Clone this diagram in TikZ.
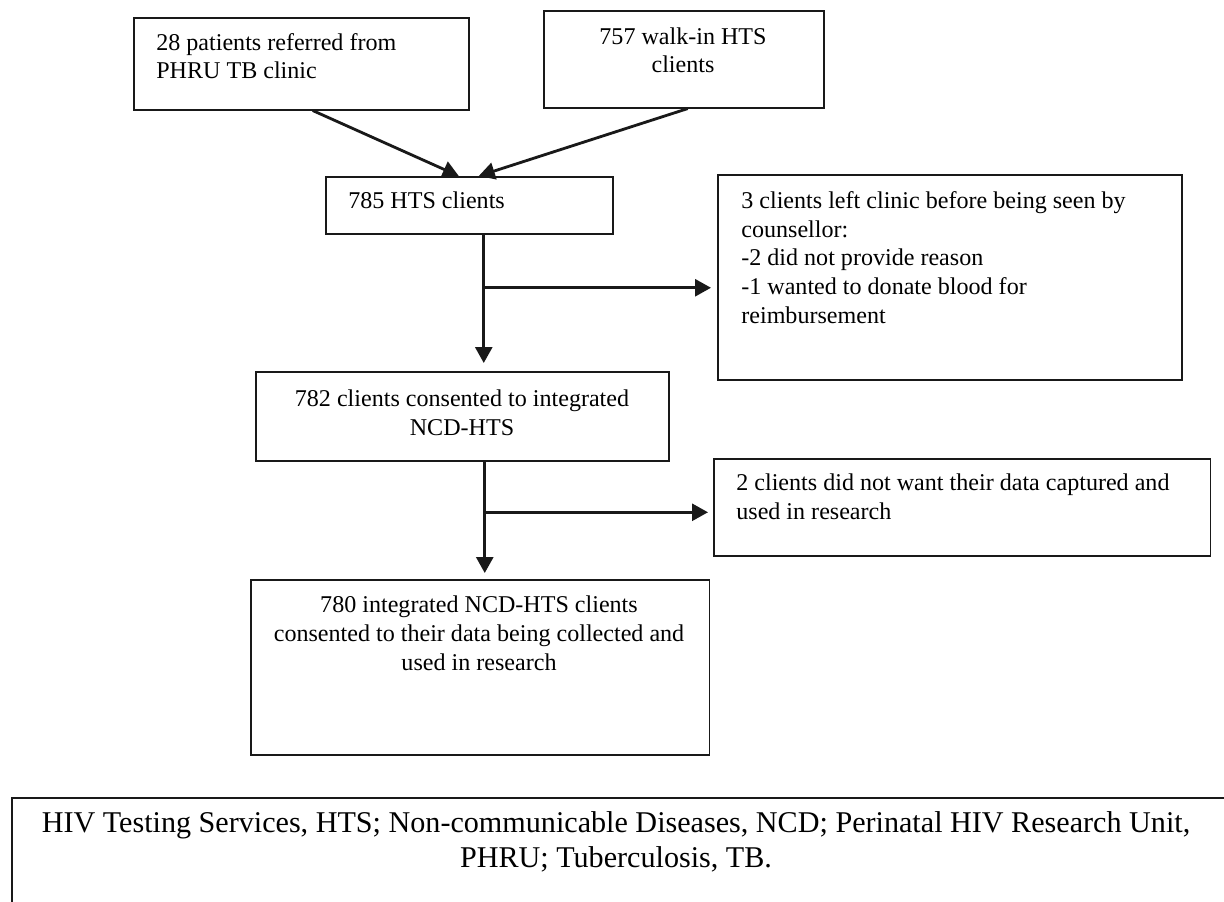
\documentclass[tikz,border=0pt]{standalone}
\usepackage{fontspec}
\setmainfont{Liberation Serif}
\usetikzlibrary{arrows.meta, positioning, calc}

\begin{document}
\begin{tikzpicture}[
  x=0.02cm, y=-0.02cm,
  every node/.style={font=\fontsize{13.7}{16.3}\selectfont},
  box/.style={rectangle, draw=black!90, line width=0.9pt, inner sep=0pt, anchor=north west},
  txt/.style={inner sep=0pt, align=left, anchor=base west},
  ctxt/.style={inner sep=0pt, align=center, anchor=base},
  flow/.style={-{Triangle[length=0.32cm, width=0.34cm]}, line width=1.6pt, black!90},
]
\clip (0,0) rectangle (1224,902);

% boxes
\node[box, minimum width=6.7cm, minimum height=1.84cm] (refer) at (133,17) {};
\node[box, minimum width=5.6cm, minimum height=1.94cm] (walkin) at (543,10) {};
\node[box, minimum width=5.74cm, minimum height=1.14cm] (hts) at (325,176) {};
\node[box, minimum width=9.28cm, minimum height=4.1cm] (left) at (717,174) {};
\node[box, minimum width=8.26cm, minimum height=1.78cm] (consent) at (255,371) {};
\node[box, minimum width=9.94cm, minimum height=1.94cm] (nodata) at (713,458) {};
\node[box, minimum width=9.18cm, minimum height=3.5cm] (final) at (250,579) {};
\node[box, minimum width=25cm, minimum height=3cm] (legend) at (11,797) {};

% texts (placed at the baseline of their last line)
\node[txt] (refer-t) at (156,79) {28 patients referred from\\PHRU TB clinic};
\node[ctxt] (walkin-t) at (683,73) {757 walk-in HTS\\clients};
\node[txt] (hts-t) at (348,209) {785 HTS clients};
\node[txt] (left-t) at (741,323) {3 clients left clinic before being seen by\\counsellor:\\-2 did not provide reason\\-1 wanted to donate blood for\\reimbursement};
\node[ctxt] (consent-t) at (462,435) {782 clients consented to integrated\\NCD-HTS};
\node[txt] (nodata-t) at (736,519) {2 clients did not want their data captured and\\used in research};
\node[ctxt] (final-t) at (479,670) {780 integrated NCD-HTS clients\\consented to their data being collected and\\used in research};
\node[ctxt, font=\fontsize{17.15}{19.6}\selectfont] (legend-t) at (616,867) {HIV Testing Services, HTS; Non-communicable Diseases, NCD; Perinatal HIV Research Unit,\\PHRU; Tuberculosis, TB.};

% split points on the vertical lines
\coordinate (split1) at ($(hts.south)+(14.5,0)$);
\coordinate (into1) at ($(left.west)+(0,10.5)$);
\coordinate (split2) at ($(consent.south)+(22.5,0)$);
\coordinate (into2) at ($(nodata.west)+(0,5)$);

% arrows
\draw[flow] ($(refer.south)+(11.5,0)$) -- ($(hts.north)+(-10.5,0)$);
\draw[flow] ($(walkin.south)+(4,0)$) -- ($(hts.north)+(9.5,0)$);
\draw[flow, shorten >=0.16cm] (split1) -- (split1 |- consent.north);
\draw[flow, shorten >=0.12cm] (split1 |- into1) -- (into1);
\draw[flow, shorten >=0.12cm] (split2) -- (split2 |- final.north);
\draw[flow, shorten >=0.1cm] (split2 |- into2) -- (into2);
\end{tikzpicture}
\end{document}
